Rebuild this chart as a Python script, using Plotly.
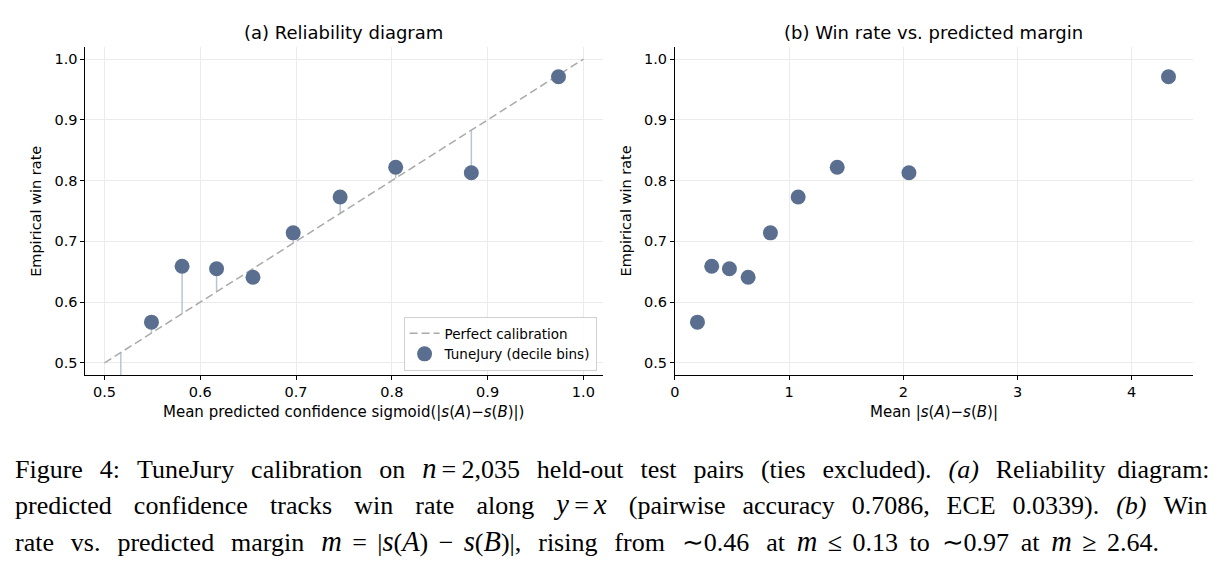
import plotly.graph_objects as go

W, H = 1223, 567

# ---- data ----
mean_confidence = [0.517, 0.549, 0.581, 0.617, 0.655, 0.697, 0.746, 0.804, 0.883, 0.974]
win_rate = [0.46, 0.567, 0.659, 0.655, 0.641, 0.714, 0.773, 0.822, 0.813, 0.971]
mean_margin = [0.07, 0.197, 0.322, 0.477, 0.641, 0.836, 1.079, 1.421, 2.049, 4.322]
diag = [0.5, 1.0]
ticks_a_x = [0.5, 0.6, 0.7, 0.8, 0.9, 1.0]
ticks_y = [0.5, 0.6, 0.7, 0.8, 0.9, 1.0]
ticks_b_x = [0, 1, 2, 3, 4]

DOT = "#5a6f8f"
STEM = "#b9c5d3"
FONT = "DejaVu Sans"


def px(x):
    return x / W


def py(y):
    return 1 - y / H


# stems: from the diagonal to each point
stem_x, stem_y = [], []
for c, w in zip(mean_confidence, win_rate):
    stem_x += [c, c, None]
    stem_y += [c, w, None]

fig = go.Figure()
fig.add_trace(go.Scatter(x=stem_x, y=stem_y, mode="lines",
                         line=dict(color=STEM, width=1.5), showlegend=False,
                         hoverinfo="skip", xaxis="x", yaxis="y"))
fig.add_trace(go.Scatter(x=diag, y=diag, mode="lines", name="Perfect calibration",
                         line=dict(color="#aaaaaa", width=1.5, dash="8px,4px"),
                         xaxis="x", yaxis="y"))
fig.add_trace(go.Scatter(x=mean_confidence, y=win_rate, mode="markers",
                         name="TuneJury (decile bins)",
                         marker=dict(color=DOT, size=15), xaxis="x", yaxis="y"))
fig.add_trace(go.Scatter(x=mean_margin, y=win_rate, mode="markers", showlegend=False,
                         marker=dict(color=DOT, size=15), xaxis="x2", yaxis="y2"))

axis_common = dict(showline=True, linecolor="black", linewidth=1, ticks="outside",
                   ticklen=4, tickwidth=1, tickcolor="black", showgrid=True,
                   gridcolor="#ebebeb", gridwidth=1, zeroline=False,
                   tickfont=dict(family=FONT, size=14.5, color="black"), mirror=False)

fig.update_layout(
    width=W, height=H, margin=dict(l=0, r=0, t=0, b=0),
    paper_bgcolor="white", plot_bgcolor="white",
    xaxis=dict(domain=[px(80.7), px(600)], range=[0.48, 1.02], tickvals=ticks_a_x,
               ticktext=[f"{v:.1f}" for v in ticks_a_x], anchor="y", **axis_common),
    yaxis=dict(domain=[py(375), py(47)], range=[0.48, 1.02], tickvals=ticks_y,
               ticktext=[f"{v:.1f}" for v in ticks_y], anchor="x", **axis_common),
    xaxis2=dict(domain=[px(672.7), px(1192.7)], range=[0, 4.535], tickvals=ticks_b_x,
                ticktext=[str(v) for v in ticks_b_x], anchor="y2", **axis_common),
    yaxis2=dict(domain=[py(375), py(47)], range=[0.48, 1.02], tickvals=ticks_y,
                ticktext=[f"{v:.1f}" for v in ticks_y], anchor="x2", **axis_common),
    legend=dict(x=px(594), y=py(371), xanchor="right", yanchor="bottom",
                bgcolor="rgba(255,255,255,0.9)", bordercolor="#d0d0d0", borderwidth=1,
                font=dict(family=FONT, size=13.5, color="black"), tracegroupgap=0),
    showlegend=True,
)

ann = []


def text(x, y, s, size=14, angle=0, xanchor="center", family=FONT):
    ann.append(dict(x=px(x), y=py(y), xref="paper", yref="paper", text=s, showarrow=False,
                    textangle=angle, xanchor=xanchor, yanchor="middle",
                    font=dict(family=family, size=size, color="black")))


text(340, 33, "(a) Reliability diagram", 18)
text(932.7, 33, "(b) Win rate vs. predicted margin", 18)
text(31, 211, "Empirical win rate", 14.5, -90)
text(624, 211, "Empirical win rate", 14.5, -90)
text(340, 412, "Mean predicted confidence sigmoid(|<i>s</i>(<i>A</i>)−<i>s</i>(<i>B</i>)|)", 15)
text(932.7, 412, "Mean |<i>s</i>(<i>A</i>)−<i>s</i>(<i>B</i>)|", 15)

# ---- caption (justified with thin spaces) ----
SERIF = "Liberation Serif"
TH = "\u2009"


def op(sym, k=1):
    return TH * k + sym + TH * k


def mi(s):
    # math-italic letter, slightly larger like LaTeX math
    return '<span style="font-size:28.5px"><i>' + s + "</i></span>"


cap_words = [
    ["Figure", "4:", "TuneJury", "calibration", "on", mi("n") + op("=") + "2,035",
     "held-out", "test", "pairs", "(ties", "excluded).", "<i>(a)</i>", "Reliability",
     "diagram:"],
    ["predicted", "confidence", "tracks", "win", "rate", "along",
     mi("y") + op("=") + mi("x"), "(pairwise", "accuracy", "0.7086,", "ECE",
     "0.0339).", "<i>(b)</i>", "Win"],
    ["rate", "vs.", "predicted", "margin",
     mi("m") + op("=", 2) + "|" + mi("s") + "(" + mi("A") + ")" + op("−", 2)
     + mi("s") + "(" + mi("B") + ")|,",
     "rising", "from", "∼0.46", "at", mi("m") + op("≤", 2) + "0.13",
     "to", "∼0.97", "at", mi("m") + op("≥", 2) + "2.64."],
]
extra_thin = [25, 33, 21]


def justify(words, n_extra):
    gaps = len(words) - 1
    out = words[0]
    for i in range(gaps):
        k = n_extra // gaps + (1 if i < n_extra % gaps else 0)
        out += " " + TH * k + words[i + 1]
    return out


for i, (words, ne) in enumerate(zip(cap_words, extra_thin)):
    text(8, 468 + 36.5 * i, justify(words, ne), 26, xanchor="left", family=SERIF)

fig.update_layout(annotations=ann)
fig.write_html("out.html")
